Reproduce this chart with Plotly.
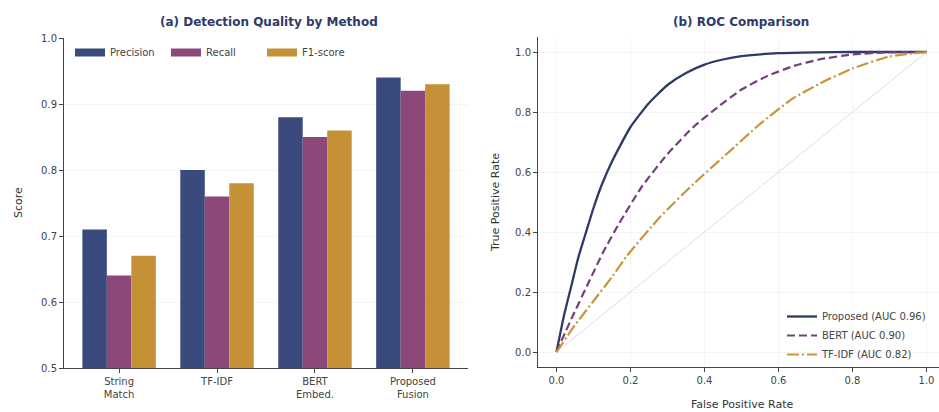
import plotly.graph_objects as go

# ---------------- data ----------------
methods = ["String<br>Match", "TF-IDF", "BERT<br>Embed.", "Proposed<br>Fusion"]
metric_names = ["Precision", "Recall", "F1-score"]
precision = [0.71, 0.80, 0.88, 0.94]
recall = [0.64, 0.76, 0.85, 0.92]
f1_score = [0.67, 0.78, 0.86, 0.93]

proposed_fpr = [0, 0.02, 0.04, 0.06, 0.08, 0.10, 0.12, 0.15, 0.20, 0.25, 0.30, 0.35, 0.40, 0.45, 0.50, 0.60, 0.70, 0.80, 1.0]
proposed_tpr = [0, 0.12, 0.22, 0.32, 0.40, 0.48, 0.55, 0.635, 0.75, 0.83, 0.89, 0.93, 0.958, 0.975, 0.986, 0.996, 0.999, 1.0, 1.0]

bert_fpr = [0, 0.04, 0.09, 0.125, 0.17, 0.23, 0.30, 0.37, 0.44, 0.50, 0.57, 0.64, 0.71, 0.80, 0.90, 1.0]
bert_tpr = [0, 0.11, 0.24, 0.33, 0.43, 0.55, 0.66, 0.75, 0.82, 0.875, 0.92, 0.953, 0.975, 0.992, 0.999, 1.0]

tfidf_fpr = [0, 0.05, 0.10, 0.15, 0.19, 0.28, 0.37, 0.46, 0.55, 0.64, 0.72, 0.80, 0.90, 1.0]
tfidf_tpr = [0, 0.09, 0.17, 0.25, 0.32, 0.45, 0.56, 0.66, 0.76, 0.846, 0.90, 0.945, 0.985, 1.0]

chance = [0, 1]

bar_yticks = [0.5, 0.6, 0.7, 0.8, 0.9, 1.0]
roc_ticks = [0.0, 0.2, 0.4, 0.6, 0.8, 1.0]

# ---------------- style ----------------
C_PREC = "#3b4a7c"
C_REC = "#8b4879"
C_F1 = "#c59136"
C_PROP = "#2e3966"
C_BERT = "#72407a"
C_TFIDF = "#c8953a"
TITLE_C = "#2e3a6a"
FONT = "DejaVu Sans"
TICK_C = "#444444"

W, H = 939, 412


def px(x):
    return x / W


def py(y):
    return (H - y) / H


fig = go.Figure()

bar_cols = [C_PREC, C_REC, C_F1]
for name, vals, col in zip(metric_names, [precision, recall, f1_score], bar_cols):
    fig.add_trace(go.Bar(x=methods, y=vals, name=name, marker_color=col,
                         marker_line_width=0, xaxis="x", yaxis="y", showlegend=False))
    # legend swatch (rectangle-like, as in the reference)
    fig.add_trace(go.Scatter(x=[None], y=[None], mode="lines", name=name,
                             line=dict(color=col, width=8), xaxis="x", yaxis="y",
                             legend="legend"))

fig.add_trace(go.Scatter(x=chance, y=chance, mode="lines", showlegend=False,
                         line=dict(color="#dddddd", width=1), xaxis="x2", yaxis="y2"))
fig.add_trace(go.Scatter(x=proposed_fpr, y=proposed_tpr, mode="lines", name="Proposed (AUC 0.96)",
                         line=dict(color=C_PROP, width=2.3, shape="spline", smoothing=0.5),
                         xaxis="x2", yaxis="y2", legend="legend2"))
fig.add_trace(go.Scatter(x=bert_fpr, y=bert_tpr, mode="lines", name="BERT (AUC 0.90)",
                         line=dict(color=C_BERT, width=2.2, dash="8px,4px", shape="spline", smoothing=0.5),
                         xaxis="x2", yaxis="y2", legend="legend2"))
fig.add_trace(go.Scatter(x=tfidf_fpr, y=tfidf_tpr, mode="lines", name="TF-IDF (AUC 0.82)",
                         line=dict(color=C_TFIDF, width=2.2, dash="12px,3px,2px,3px", shape="spline", smoothing=0.5),
                         xaxis="x2", yaxis="y2", legend="legend2"))

axis_common = dict(showline=True, linecolor="#444444", linewidth=1, ticks="outside",
                   ticklen=4, tickcolor="#444444", tickfont=dict(family=FONT, size=10, color=TICK_C),
                   zeroline=False, automargin=False, mirror=False)

fig.update_layout(
    width=W, height=H,
    margin=dict(l=0, r=0, t=0, b=0),
    paper_bgcolor="white", plot_bgcolor="white",
    font=dict(family=FONT, size=10, color=TICK_C),
    barmode="group", bargap=0.25, bargroupgap=0,
    xaxis=dict(domain=[px(64), px(468)], range=[-0.5625, 3.5625], showgrid=False,
               anchor="y", **axis_common),
    yaxis=dict(domain=[py(368), py(38)], range=[0.5, 1.0], tickvals=bar_yticks,
               ticktext=[f"{v:.1f}" for v in bar_yticks], showgrid=True,
               gridcolor="rgba(0,0,0,0.04)", gridwidth=1, anchor="x", **axis_common),
    xaxis2=dict(domain=[px(538), 1.0], range=[-0.05, -0.05 + (W - 538) / 370.0],
                tickvals=roc_ticks, ticktext=[f"{v:.1f}" for v in roc_ticks], showgrid=True,
                gridcolor="rgba(0,0,0,0.04)", anchor="y2", **axis_common),
    yaxis2=dict(domain=[py(367), py(37)], range=[-0.05, 1.05], tickvals=roc_ticks,
                ticktext=[f"{v:.1f}" for v in roc_ticks], showgrid=True,
                gridcolor="rgba(0,0,0,0.04)", anchor="x2", **axis_common),
    legend=dict(orientation="h", x=px(70), y=py(38), xanchor="left", yanchor="top",
                bgcolor="rgba(255,255,255,0)", font=dict(family=FONT, size=10, color="#444444"),
                itemwidth=30, tracegroupgap=0, entrywidth=51, entrywidthmode="pixels"),
    legend2=dict(x=px(782), y=py(369), xanchor="left", yanchor="bottom",
                 bgcolor="rgba(255,255,255,0)", font=dict(family=FONT, size=10, color="#444444"),
                 itemwidth=30, tracegroupgap=0),
    showlegend=True,
)

annots = [
    dict(text="<b>(a) Detection Quality by Method</b>", x=px(269), y=py(22),
         font=dict(family=FONT, size=12, color=TITLE_C)),
    dict(text="<b>(b) ROC Comparison</b>", x=px(741), y=py(22),
         font=dict(family=FONT, size=12, color=TITLE_C)),
    dict(text="Score", x=px(18), y=py(203), textangle=-90,
         font=dict(family=FONT, size=11, color="#333333")),
    dict(text="True Positive Rate", x=px(495), y=py(202), textangle=-90,
         font=dict(family=FONT, size=11, color="#333333")),
    dict(text="False Positive Rate", x=px(742), y=py(404),
         font=dict(family=FONT, size=11, color="#333333")),
]
for a in annots:
    fig.add_annotation(xref="paper", yref="paper", showarrow=False,
                       xanchor="center", yanchor="middle", **a)

fig.write_html("out.html", config={"displayModeBar": False},
               post_script="document.body.style.margin='0';document.body.style.overflow='hidden';")
